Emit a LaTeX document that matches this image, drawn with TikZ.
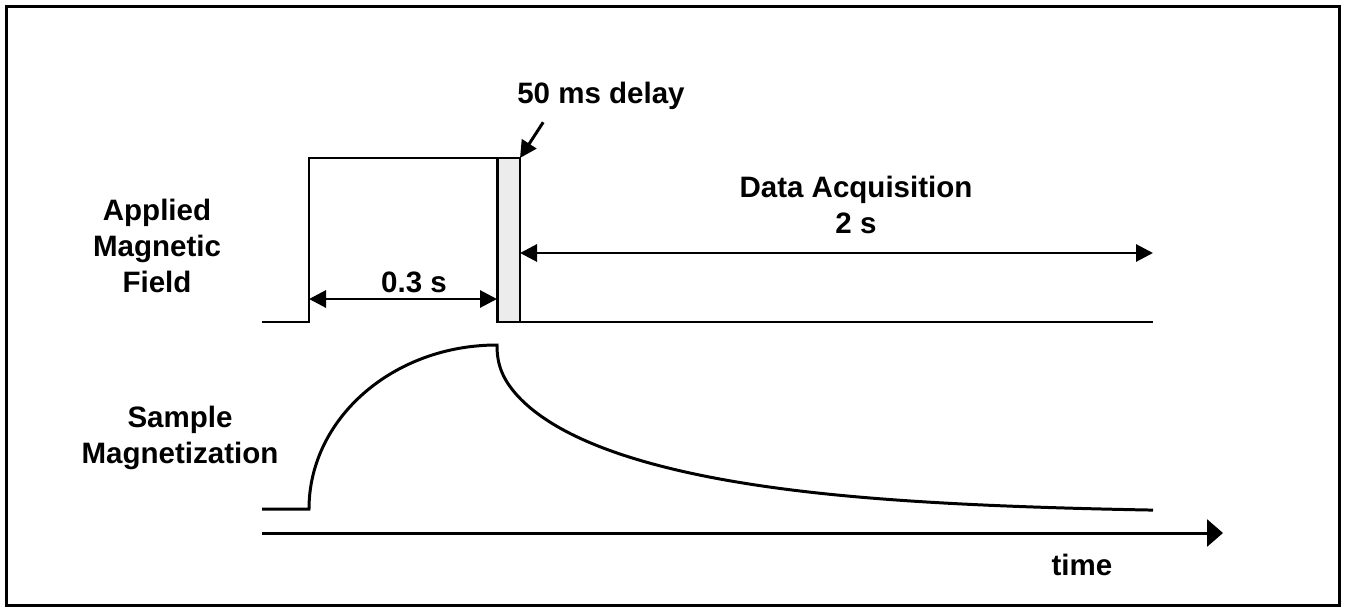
\documentclass[tikz,border=0pt]{standalone}
\usepackage{fontspec}
\setmainfont{Liberation Sans}
\usetikzlibrary{calc}
\usetikzlibrary{arrows.meta}
\pgfmathdeclarefunction{relax}{1}{\pgfmathparse{345+165*(0.22*(1-exp(-sqrt(#1/6)))+0.12*(1-exp(-#1/40))+0.66*(1-exp(-#1/190)))/0.9785}}

\begin{document}
\begin{tikzpicture}[x=0.02cm, y=-0.02cm,
		signal/.style={black, line width=1.7pt},
		lbl/.style={font=\bfseries\fontsize{16.8}{20.4}\selectfont, align=center, inner sep=1pt},
		span/.style={black, line width=1.7pt, {Triangle[length=0.34cm,width=0.34cm]}-{Triangle[length=0.34cm,width=0.34cm]}},
		pointer/.style={black, line width=1.7pt, -{Triangle[length=0.34cm,width=0.34cm]}}]
		\useasboundingbox (0,0) rectangle (1345,612);
		\draw[black, line width=1.5pt] (6.5,6.5) rectangle (1339.5,605.5);

		% labels
		\node[lbl] (field) at (157,246) {Applied\\Magnetic\\Field};
		\node[lbl] (sample) at (180,438) {Sample\\Magnetization};
		\node[lbl, anchor=base] (delay) at (601,103) {50 ms delay};
		\node[lbl, anchor=base] (pulse) at (414,292) {0.3 s};
		\node[lbl] (acq) at (856,205) {Data Acquisition\\2 s};
		\node[lbl, anchor=base] (time) at (1082,575) {time};

		% applied field
		\filldraw[fill=gray!15, draw=black, line width=1.1pt] (497,158) rectangle (520,322);
		\draw[signal] (262,322) -- (309,322) -- (309,158) -- (497,158) -- (497,322) -- (1153,322);
		\coordinate (pulseon) at (309,299);
		\coordinate (pulseoff) at (497,299);
		\coordinate (acqon) at (520,253);
		\coordinate (acqoff) at (1153,253);
		\coordinate (delaytip) at (520,158);
		\draw[span] (pulseon) -- (pulseoff);
		\draw[span] (acqon) -- (acqoff);
		\draw[pointer] ($(delay.south west)+(28,11)$) -- (delaytip);

		% magnetization
		\draw[signal] (262,509) -- (309,509) .. controls (309,418.4) and (393.2,345) .. (497,345)
			-- plot[domain=0:0.5, samples=11, smooth] ({497+\x},{relax(\x)})
			-- plot[domain=0.5:12, samples=40, smooth] ({497+\x},{relax(\x)})
			-- plot[domain=12:656, samples=160, smooth] ({497+\x},{relax(\x)});

		% time axis
		\coordinate (axis0) at (262,533);
		\coordinate (axis1) at (1223,533);
		\draw[black, line width=1.7pt, -{Triangle[length=0.32cm,width=0.54cm]}] (axis0) -- (axis1);
		\end{tikzpicture}
\end{document}
